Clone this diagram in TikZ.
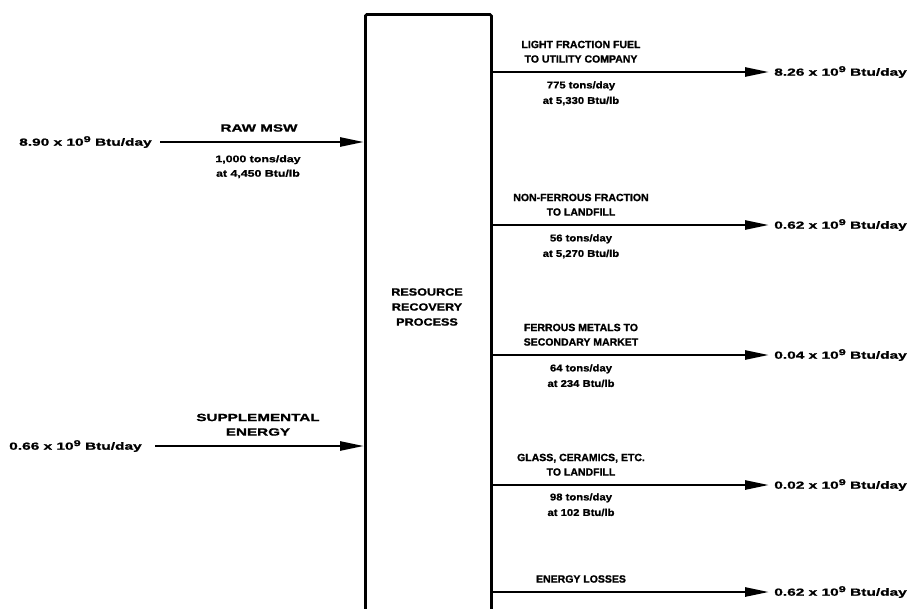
\documentclass[tikz,border=0pt]{standalone}
\usepackage{fontspec}
\setmainfont{Liberation Sans}
\newfontfamily\titlefont[FakeStretch=1.0,FakeBold=1.2]{Liberation Sans}
\newfontfamily\widefont[FakeStretch=1.45,FakeBold=1.2]{Liberation Sans}
\newfontfamily\boxfont[FakeStretch=1.2,FakeBold=1.2]{Liberation Sans}
\newfontfamily\subfont[FakeStretch=1.15,FakeBold=1.2]{Liberation Sans}
\newfontfamily\widesubfont[FakeStretch=1.3,FakeBold=1.2]{Liberation Sans}
\newfontfamily\valfont[FakeStretch=1.5,FakeBold=1.2]{Liberation Sans}
\newcommand\nine{\raisebox{3.6pt}{\fontsize{8.5}{8.5}\selectfont 9}}
\usetikzlibrary{arrows.meta}
\begin{document}
\begin{tikzpicture}[x=1pt,y=-1pt,line width=2.6pt,
  flow/.style={-{Triangle[length=24pt,width=9pt]}},
  ttl/.style={font=\titlefont\bfseries\fontsize{10.5}{14.5}\selectfont, align=center, inner sep=0pt},
  lttl/.style={font=\widefont\bfseries\fontsize{10.5}{14.5}\selectfont, align=center, inner sep=0pt},
  boxtxt/.style={font=\boxfont\bfseries\fontsize{10.5}{15}\selectfont, align=center, inner sep=0pt},
  sub/.style={font=\subfont\bfseries\fontsize{9.8}{15.5}\selectfont, align=center, inner sep=0pt},
  lsub/.style={font=\widesubfont\bfseries\fontsize{9.5}{14.5}\selectfont, align=center, inner sep=0pt},
  val/.style={font=\valfont\bfseries\fontsize{10.3}{11}\selectfont, inner sep=0pt},
  procbox/.style={draw, line width=2.8pt, rounded corners=1.5pt, inner sep=0pt, minimum width=126pt, minimum height=640pt, anchor=north west}]
\useasboundingbox (0,0) rectangle (917,608);
\fill[white] (0,0) rectangle (917,608);
% process box
\node[procbox] (proc) at (364,13) {};
\node[boxtxt] (proctxt) at (427,307) {RESOURCE\\RECOVERY\\PROCESS};
% inputs
\node[val, anchor=east] (in1) at (153,142) {8.90 x 10\nine{} Btu/day};
\node[val, anchor=east] (in2) at (143,446) {0.66 x 10\nine{} Btu/day};
\draw[flow] ([xshift=7pt]in1.east) -- (in1.east -| proc.west);
\draw[flow] ([xshift=12pt]in2.east) -- (in2.east -| proc.west);
\node[lttl, anchor=south] (t1) at (259,133) {RAW MSW};
\node[lsub, anchor=north] (s1) at (258,154) {1,000 tons/day\\at 4,450 Btu/lb};
\node[lttl, anchor=south] (t2) at (258,437) {SUPPLEMENTAL\\ENERGY};
% outputs
\node[val, anchor=west] (o1) at (773,72) {8.26 x 10\nine{} Btu/day};
\node[val, anchor=west] (o2) at (773,225) {0.62 x 10\nine{} Btu/day};
\node[val, anchor=west] (o3) at (773,355) {0.04 x 10\nine{} Btu/day};
\node[val, anchor=west] (o4) at (773,485) {0.02 x 10\nine{} Btu/day};
\node[val, anchor=west] (o5) at (773,592) {0.62 x 10\nine{} Btu/day};
\foreach \o in {o1,o2,o3,o4,o5}
  \draw[flow] (\o.west -| proc.east) -- ([xshift=-4pt]\o.west);
\node[ttl, anchor=south] (ot1) at (581,64) {LIGHT FRACTION FUEL\\TO UTILITY COMPANY};
\node[sub, anchor=north] (os1) at (581,80) {775 tons/day\\at 5,330 Btu/lb};
\node[ttl, anchor=south] (ot2) at (581,217) {NON-FERROUS FRACTION\\TO LANDFILL};
\node[sub, anchor=north] (os2) at (581,233) {56 tons/day\\at 5,270 Btu/lb};
\node[ttl, anchor=south] (ot3) at (581,347) {FERROUS METALS TO\\SECONDARY MARKET};
\node[sub, anchor=north] (os3) at (581,363) {64 tons/day\\at 234 Btu/lb};
\node[ttl, anchor=south] (ot4) at (581,477) {GLASS, CERAMICS, ETC.\\TO LANDFILL};
\node[sub, anchor=north] (os4) at (581,492) {98 tons/day\\at 102 Btu/lb};
\node[ttl, anchor=south] (ot5) at (581,584) {ENERGY LOSSES};
\end{tikzpicture}
\end{document}
